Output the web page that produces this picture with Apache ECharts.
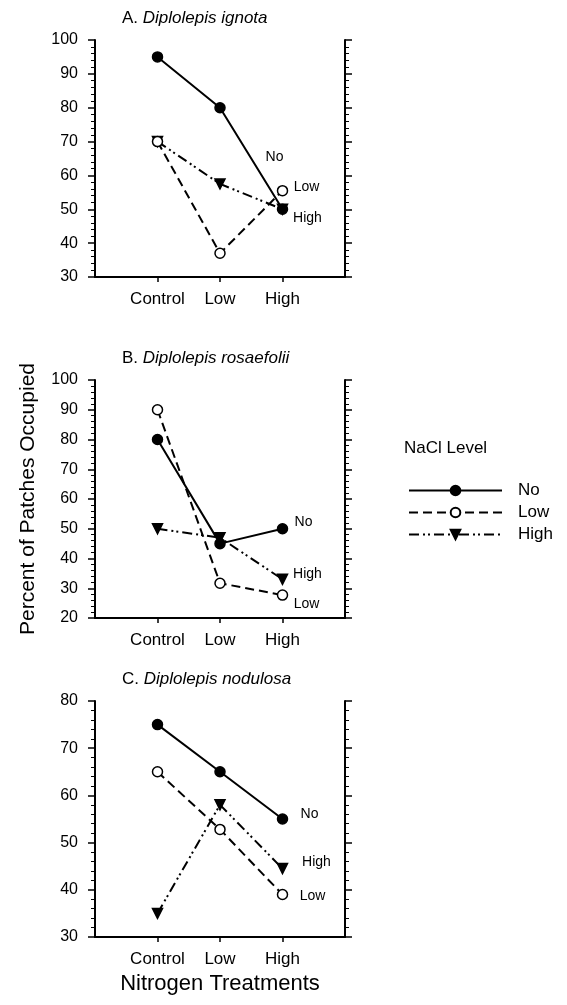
<!DOCTYPE html>
<html>
<head>
<meta charset="utf-8">
<script src="https://cdn.jsdelivr.net/npm/echarts@6/dist/echarts.min.js"></script>
<style>
    html, body { margin: 0; padding: 0; background: #fff; }
    #chart { width: 567px; height: 1005px; }
</style>
</head>
<body>
<div id="chart"></div>
<script>
// nitrogen treatments on the x axis, NaCl levels as series
const categories = ['Control', 'Low', 'High'];
const levels = ['No', 'Low', 'High'];

// A. Diplolepis ignota
const ignotaNo = [95, 80, 50];
const ignotaLow = [70, 37, 55.5];
const ignotaHigh = [70, 57.5, 50];

// B. Diplolepis rosaefolii
const rosaeNo = [80, 45, 50];
const rosaeLow = [90, 31.7, 27.7];
const rosaeHigh = [50, 47, 33];

// C. Diplolepis nodulosa
const noduNo = [75, 65, 55];
const noduLow = [65, 52.8, 39];
const noduHigh = [35, 58, 44.5];

const font = "'Liberation Sans', Arial, Helvetica, sans-serif";

const panels = [
    { letter: 'A. ', name: 'Diplolepis ignota', top: 40, height: 237, min: 30, max: 100,
      data: [ignotaNo, ignotaLow, ignotaHigh],
      labelOffset: [[-8, -52], [24, -4], [25, 9]] },
    { letter: 'B. ', name: 'Diplolepis rosaefolii', top: 380, height: 238, min: 20, max: 100,
      data: [rosaeNo, rosaeLow, rosaeHigh],
      labelOffset: [[21, -7], [24, 9], [25, -5]] },
    { letter: 'C. ', name: 'Diplolepis nodulosa', top: 701, height: 236, min: 30, max: 80,
      data: [noduNo, noduLow, noduHigh],
      labelOffset: [[27, -5], [30, 2], [34, -6]] }
];

// line / symbol look for each NaCl level
const styles = {
    No: { type: 'solid', symbol: 'circle', fill: '#000', size: 10, rotate: 0 },
    Low: { type: [9, 5], symbol: 'circle', fill: '#fff', size: 10, rotate: 0 },
    High: { type: [10, 4, 2, 3, 2, 4], symbol: 'triangle', fill: '#000', size: 10, rotate: 180 }
};

const grids = [], xAxes = [], yAxes = [], series = [], titles = [];

panels.forEach((p, i) => {
    grids.push({ left: 95, width: 250, top: p.top, height: p.height });

    titles.push({
        text: '{n|' + p.letter + '}{i|' + p.name + '}',
        left: 117,
        top: p.top - 35,
        textStyle: {
            rich: {
                n: { fontSize: 17, fontWeight: 'normal', fontFamily: font, color: '#000' },
                i: { fontSize: 17, fontWeight: 'normal', fontFamily: font, color: '#000', fontStyle: 'italic' }
            }
        }
    });

    xAxes.push({
        type: 'value',
        gridIndex: i,
        min: 0,
        max: 4,
        position: 'bottom',
        splitLine: { show: false },
        axisLine: { lineStyle: { color: '#000', width: 2 } },
        axisTick: { customValues: [1, 2, 3], length: 5, lineStyle: { color: '#000', width: 1.5 } },
        axisLabel: {
            customValues: [1, 2, 3],
            formatter: v => categories[v - 1],
            margin: 14,
            fontSize: 17,
            fontFamily: font,
            color: '#000'
        },
        name: i === 2 ? 'Nitrogen Treatments' : '',
        nameLocation: 'middle',
        nameGap: 36,
        nameTextStyle: { fontSize: 22, fontFamily: font, color: '#000' }
    });

    const yBase = {
        type: 'value',
        gridIndex: i,
        min: p.min,
        max: p.max,
        interval: 10,
        splitLine: { show: false },
        axisLine: { show: true, lineStyle: { color: '#000', width: 2 } },
        axisTick: { show: true, length: 7, lineStyle: { color: '#000', width: 1.5 } },
        minorTick: { show: true, splitNumber: 5, length: 4, lineStyle: { color: '#000', width: 1 } }
    };

    yAxes.push(Object.assign({}, yBase, {
        position: 'left',
        axisLabel: { margin: 17, fontSize: 16, fontFamily: font, color: '#000' },
        name: i === 1 ? 'Percent of Patches Occupied' : '',
        nameLocation: 'middle',
        nameGap: 56,
        nameTextStyle: { fontSize: 21, fontFamily: font, color: '#000' }
    }));
    yAxes.push(Object.assign({}, yBase, {
        position: 'right',
        axisLabel: { show: false }
    }));

    // draw High first so No sits on top, as in the figure
    [2, 1, 0].forEach(k => {
        const lvl = levels[k];
        const st = styles[lvl];
        const vals = p.data[k];
        series.push({
            name: lvl,
            type: 'line',
            xAxisIndex: i,
            yAxisIndex: i * 2,
            symbol: st.symbol,
            symbolSize: st.size,
            symbolRotate: st.rotate,
            showAllSymbol: true,
            animation: false,
            lineStyle: { color: '#000', width: 2, type: st.type },
            itemStyle: { color: st.fill, borderColor: '#000', borderWidth: 1.5 },
            emphasis: { disabled: true },
            data: vals.map((v, j) => {
                const item = { value: [j + 1, v] };
                if (j === vals.length - 1) {
                    item.label = {
                        show: true,
                        formatter: lvl,
                        position: 'inside',
                        offset: p.labelOffset[k],
                        fontSize: 14,
                        fontFamily: font,
                        color: '#000'
                    };
                }
                return item;
            })
        });
    });
});

titles.push({
    text: 'NaCl Level',
    left: 399,
    top: 435,
    textStyle: { fontSize: 17, fontWeight: 'normal', fontFamily: font, color: '#000' }
});

const chart = echarts.init(document.getElementById('chart'), null, { renderer: 'canvas' });
chart.setOption({
    backgroundColor: '#fff',
    animation: false,
    title: titles,
    legend: {
        data: levels,
        orient: 'vertical',
        left: 403,
        top: 477,
        itemWidth: 93,
        itemHeight: 12,
        itemGap: 5,
        selectedMode: false,
        textStyle: { fontSize: 17, fontFamily: font, color: '#000', padding: [0, 0, 0, 11] }
    },
    grid: grids,
    xAxis: xAxes,
    yAxis: yAxes,
    series: series
});
</script>
</body>
</html>
